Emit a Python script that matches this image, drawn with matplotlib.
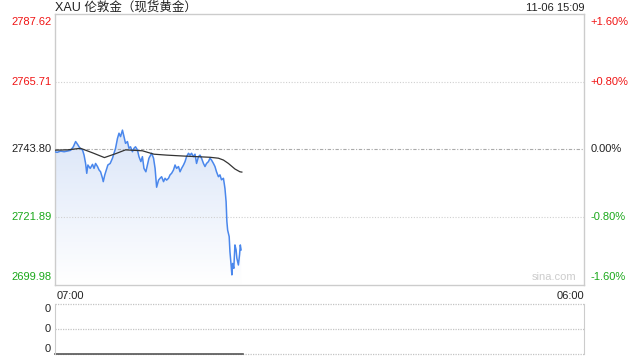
import numpy as np
import matplotlib
matplotlib.use("Agg")
import matplotlib.pyplot as plt
from matplotlib.colors import LinearSegmentedColormap

plt.rcParams['font.family'] = ['Liberation Sans', 'Noto Sans CJK SC', 'DejaVu Sans']

# minutes since 07:00 and price
price_t = [0, 7, 16, 25, 33, 42, 49, 55, 60, 64, 68, 73, 77, 81, 84, 87, 93, 99, 103,
           107, 112, 116, 120, 125, 127, 131, 135, 139, 145, 151, 155, 159, 164, 168,
           172, 177, 181, 185, 190, 194, 198, 203, 207, 211, 216, 220, 225, 229, 233,
           238, 242, 246, 253, 258, 262, 266, 271, 275, 279, 284, 288, 292, 297, 301,
           305, 310, 314, 318, 323, 327, 331, 336, 340, 344, 349, 353, 357, 362, 366,
           370, 375, 379, 383, 388, 392, 396, 401, 405, 409, 414, 418, 422, 427, 431,
           435, 440, 442, 444, 447, 449, 451, 455, 457, 460, 462, 464, 467, 470, 473,
           475, 479, 482, 484, 486]
price_v = [2743.0, 2742.8, 2743.2, 2743.0, 2743.2, 2743.45, 2744.6, 2746.3, 2745.4, 2744.6,
           2743.9, 2743.6, 2741.9, 2739.2, 2736.0, 2738.7, 2737.6, 2738.9, 2737.6,
           2739.2, 2738.2, 2737.1, 2736.5, 2734.4, 2733.3, 2735.5, 2737.1, 2738.7, 2739.2,
           2740.9, 2742.5, 2744.1, 2747.3, 2749.0, 2747.9, 2750.0, 2747.9, 2745.7, 2746.3,
           2744.1, 2744.6, 2743.0, 2744.1, 2744.6, 2743.6, 2741.4, 2739.8, 2741.4, 2737.6,
           2736.5, 2738.7, 2740.9, 2742.5, 2740.9, 2737.6, 2731.5, 2733.8, 2734.4, 2734.9,
           2733.3, 2734.4, 2733.8, 2734.4, 2735.5, 2736.0, 2737.1, 2738.7, 2737.6, 2738.2,
           2736.5, 2737.6, 2738.7, 2739.8, 2741.4, 2742.5, 2741.9, 2742.5, 2741.4, 2742.2,
           2739.2, 2741.4, 2741.9, 2740.9, 2739.2, 2738.2, 2739.2, 2739.8, 2740.9, 2740.3,
           2739.2, 2738.2, 2736.5, 2734.9, 2735.5, 2733.9, 2734.4, 2732.8, 2731.1, 2726.8,
           2720.4, 2717.6, 2715.5, 2710.6, 2706.3, 2703.1, 2706.8, 2705.2, 2712.8, 2711.2,
           2708.5, 2706.3, 2709.6, 2712.8, 2711.2]

avg_t = [0, 33, 68, 100, 130, 160, 185, 229, 259, 292, 336, 405, 427, 440, 453, 470,
         483, 488]
avg_v = [2743.5, 2743.6, 2744.1, 2742.6, 2741.1, 2742.4, 2743.6, 2743.3, 2742.2, 2741.9,
         2741.6, 2741.2, 2740.9, 2740.3, 2739.2, 2737.4, 2736.5, 2736.4]

y_ticks = [2787.62, 2765.71, 2743.80, 2721.89, 2699.98]
pct_ticks = ["+1.60%", "+0.80%", "0.00%", "-0.80%", "-1.60%"]
tick_colors = ["#f01414", "#f01414", "#222222", "#1aa81a", "#1aa81a"]
vol_ticks = ["0", "0", "0"]

total_min = 1380  # 07:00 -> 06:00
grid_col = "#cccccc"

fig = plt.figure(figsize=(6.4, 3.6), dpi=100)
ax = fig.add_axes([54.5 / 640, 1 - 284.5 / 360, 529.8 / 640, 270.5 / 360])
vax = fig.add_axes([54.5 / 640, 1 - 354 / 360, 529.8 / 640, 49.7 / 360])

ymin, ymax = y_ticks[-1], y_ticks[0]

# gradient fill under price
fill = ax.fill_between(price_t, price_v, ymin, facecolor="none", edgecolor="none")
cmap = LinearSegmentedColormap.from_list("g", ["#ffffff", "#dae5f8"])
grad = np.linspace(0, 1, 256).reshape(-1, 1)
im = ax.imshow(grad, cmap=cmap, origin="lower", aspect="auto",
               extent=[0, total_min, ymin, 2750], zorder=1)
im.set_clip_path(fill.get_paths()[0], transform=ax.transData)
ax.set_xlim(0, total_min)
ax.set_ylim(ymin, ymax)

ax.plot(price_t, price_v, color="#4a87ec", lw=1.1, zorder=3)
ax.plot(avg_t, avg_v, color="#333333", lw=0.9, zorder=4)

# grid lines
for v in y_ticks[1:4]:
    if v == y_ticks[2]:
        ax.axhline(v, color="#aaaaaa", lw=0.8, ls=(0, (3, 1.5, 1, 1.5)), zorder=2)
    else:
        ax.axhline(v, color="#d0d0d0", lw=0.8, ls=(0, (1, 1.5)), zorder=2)

for s in ax.spines.values():
    s.set_color(grid_col)
    s.set_linewidth(1)
ax.set_xticks([])
ax.set_yticks([])

# axis labels
for i, (v, p, c) in enumerate(zip(y_ticks, pct_ticks, tick_colors)):
    va = "center"
    off = 0
    if i == 0:
        va, off = "top", -3
    elif i == len(y_ticks) - 1:
        va, off = "bottom", 2
    ax.annotate(f"{v:.2f}", (0, v), xycoords=("axes fraction", "data"),
                xytext=(-3, off), textcoords="offset pixels",
                ha="right", va=va, color=c, fontsize=8)
    ax.annotate(p, (1, v), xycoords=("axes fraction", "data"),
                xytext=(6, off), textcoords="offset pixels",
                ha="left", va=va, color=c, fontsize=8)

fig.text(55 / 640, 1 - 7 / 360, "XAU 伦敦金（现货黄金）",
         ha="left", va="center", fontsize=9, color="#222222")
fig.text(584 / 640, 1 - 8 / 360, "11-06 15:09",
         ha="right", va="center", fontsize=8, color="#222222")
ax.text(0.985, 0.01, "sina.com", transform=ax.transAxes,
        ha="right", va="bottom", fontsize=8, color="#cccccc")
ax.text(0.004, -0.025, "07:00", transform=ax.transAxes,
        ha="left", va="top", fontsize=8, color="#222222")
ax.text(1, -0.025, "06:00", transform=ax.transAxes,
        ha="right", va="top", fontsize=8, color="#222222")

# volume panel
vax.set_xlim(0, total_min)
vax.set_ylim(0, 1)
vax.set_xticks([])
vax.set_yticks([])
vax.spines["left"].set_color(grid_col)
vax.spines["right"].set_color(grid_col)
for k in ["top", "bottom"]:
    vax.spines[k].set_visible(False)
for v in [0, 0.5, 1]:
    vax.axhline(v, color="#c4c4c4", lw=0.9, ls=(0, (1, 1)), clip_on=False)
vax.plot([0, price_t[-1] + 5], [0, 0], color="#555555", lw=1.2, clip_on=False)
for y, lab, va in zip([1, 0.5, 0], vol_ticks, ["top", "center", "bottom"]):
    vax.annotate(lab, (0, y), xycoords="axes fraction", xytext=(-4, 0),
                 textcoords="offset pixels", ha="right", va=va,
                 fontsize=8, color="#222222")

fig.savefig("out.png", dpi=100)
